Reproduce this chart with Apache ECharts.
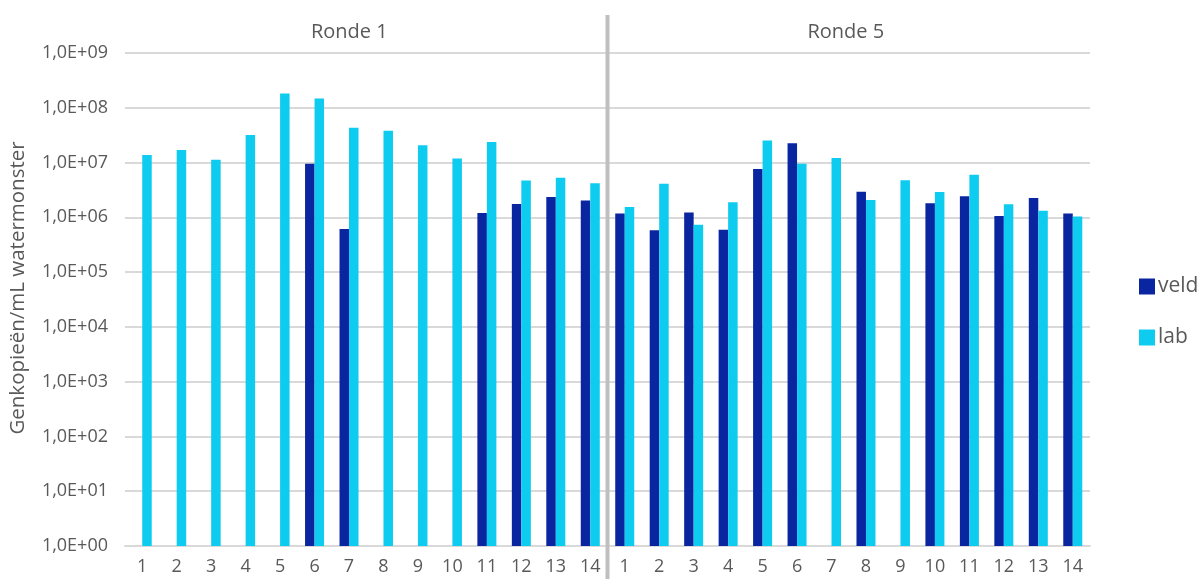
<!DOCTYPE html>
<html>
<head>
<meta charset="utf-8">
<script src="https://cdn.jsdelivr.net/npm/echarts@6/dist/echarts.min.js"></script>
<style>html,body{margin:0;padding:0;background:#fff;}#c{width:1202px;height:579px;}</style>
</head>
<body>
<div id="c"></div>
<script>
// Data
const samples = ['1','2','3','4','5','6','7','8','9','10','11','12','13','14'];
const rounds = ['Ronde 1', 'Ronde 5'];
const veldRonde1 = [null, null, null, null, null, 9.5e6, 6.1e5, null, null, null, 1.2e6, 1.76e6, 2.36e6, 2.02e6];
const labRonde1  = [1.37e7, 1.7e7, 1.13e7, 3.2e7, 1.83e8, 1.48e8, 4.3e7, 3.8e7, 2.07e7, 1.19e7, 2.38e7, 4.7e6, 5.3e6, 4.2e6];
const veldRonde5 = [1.17e6, 5.8e5, 1.22e6, 5.96e5, 7.6e6, 2.24e7, null, 2.94e6, null, 1.8e6, 2.42e6, 1.06e6, 2.25e6, 1.17e6];
const labRonde5  = [1.54e6, 4.1e6, 7.3e5, 1.88e6, 2.53e7, 9.5e6, 1.21e7, 2.07e6, 4.73e6, 2.9e6, 6.0e6, 1.73e6, 1.32e6, 1.04e6];
const yTickExponents = [0,1,2,3,4,5,6,7,8,9];
const yTitle = 'Genkopieën/mL watermonster';

const categories = samples.map(s => 'R1-' + s).concat(samples.map(s => 'R5-' + s));
const veldData = veldRonde1.concat(veldRonde5);
const labData = labRonde1.concat(labRonde5);

const FONT = '"Open Sans", "Noto Sans", sans-serif';
const TXT = '#595959';
const chart = echarts.init(document.getElementById('c'), null, {renderer: 'canvas'});
const gridLeft = 125, gridRight = 112, gridTop = 53, gridBottom = 33;

const option = {
  animation: false,
  backgroundColor: '#ffffff',
  textStyle: {fontFamily: FONT},
  grid: {left: gridLeft, right: gridRight, top: gridTop, bottom: gridBottom, containLabel: false},
  legend: {
    orient: 'vertical',
    left: 1134, top: 271,
    itemWidth: 16, itemHeight: 16, itemGap: 30, icon: 'rect',
    textStyle: {fontSize: 21, color: TXT, fontFamily: FONT, padding: [0,0,0,-2]},
    data: ['veld', 'lab']
  },
  xAxis: {
    type: 'category',
    data: categories,
    boundaryGap: true,
    axisLine: {show: true, lineStyle: {color: '#d9d9d9', width: 2}},
    axisTick: {show: false},
    axisLabel: {
      interval: 0, color: TXT, fontSize: 18, fontFamily: FONT, margin: 12,
      formatter: v => v.split('-')[1]
    }
  },
  yAxis: {
    type: 'log',
    logBase: 10,
    min: Math.pow(10, yTickExponents[0]),
    max: Math.pow(10, yTickExponents[yTickExponents.length - 1]),
    axisLine: {show: false},
    axisTick: {show: false},
    splitLine: {show: true, lineStyle: {color: '#d9d9d9', width: 2}},
    axisLabel: {
      color: TXT, fontSize: 18, fontFamily: FONT, margin: 17,
      formatter: v => {
        const e = Math.round(Math.log10(v));
        return '1,0E+' + (e < 10 ? '0' + e : e);
      }
    }
  },
  series: [
    {name: 'veld', type: 'bar', data: veldData, barWidth: 9.5, barGap: '0%',
     itemStyle: {color: '#0a25a0'}},
    {name: 'lab', type: 'bar', data: labData, barWidth: 9.5, barGap: '0%',
     itemStyle: {color: '#0ecbf0'}}
  ]
};
chart.setOption(option);

// Divider, round titles and axis title placed from the axis scale
function addGraphics() {
  const xBoundaryLeft = chart.convertToPixel({xAxisIndex: 0}, categories[samples.length - 1]);
  const xBoundaryRight = chart.convertToPixel({xAxisIndex: 0}, categories[samples.length]);
  const divX = (xBoundaryLeft + xBoundaryRight) / 2;
  const c1 = chart.convertToPixel({xAxisIndex: 0}, categories[0]);
  const c14 = chart.convertToPixel({xAxisIndex: 0}, categories[samples.length - 1]);
  const c15 = chart.convertToPixel({xAxisIndex: 0}, categories[samples.length]);
  const c28 = chart.convertToPixel({xAxisIndex: 0}, categories[categories.length - 1]);
  chart.setOption({
    graphic: [
      {type: 'line', shape: {x1: divX, y1: 15, x2: divX, y2: 579}, style: {stroke: '#bfbfbf', lineWidth: 4}, z: 10},
      {type: 'text', x: (c1 + c14) / 2 - 17, y: 32, style: {text: rounds[0], fontSize: 20, fill: TXT, fontFamily: FONT, textAlign: 'center', textVerticalAlign: 'middle'}},
      {type: 'text', x: (c15 + c28) / 2 - 3, y: 32, style: {text: rounds[1], fontSize: 20, fill: TXT, fontFamily: FONT, textAlign: 'center', textVerticalAlign: 'middle'}},
      {type: 'text', x: 18, y: 288, rotation: Math.PI / 2, style: {text: yTitle, fontSize: 20.5, fill: TXT, fontFamily: FONT, textAlign: 'center', textVerticalAlign: 'middle'}}
    ]
  });
}
addGraphics();
</script>
</body>
</html>
